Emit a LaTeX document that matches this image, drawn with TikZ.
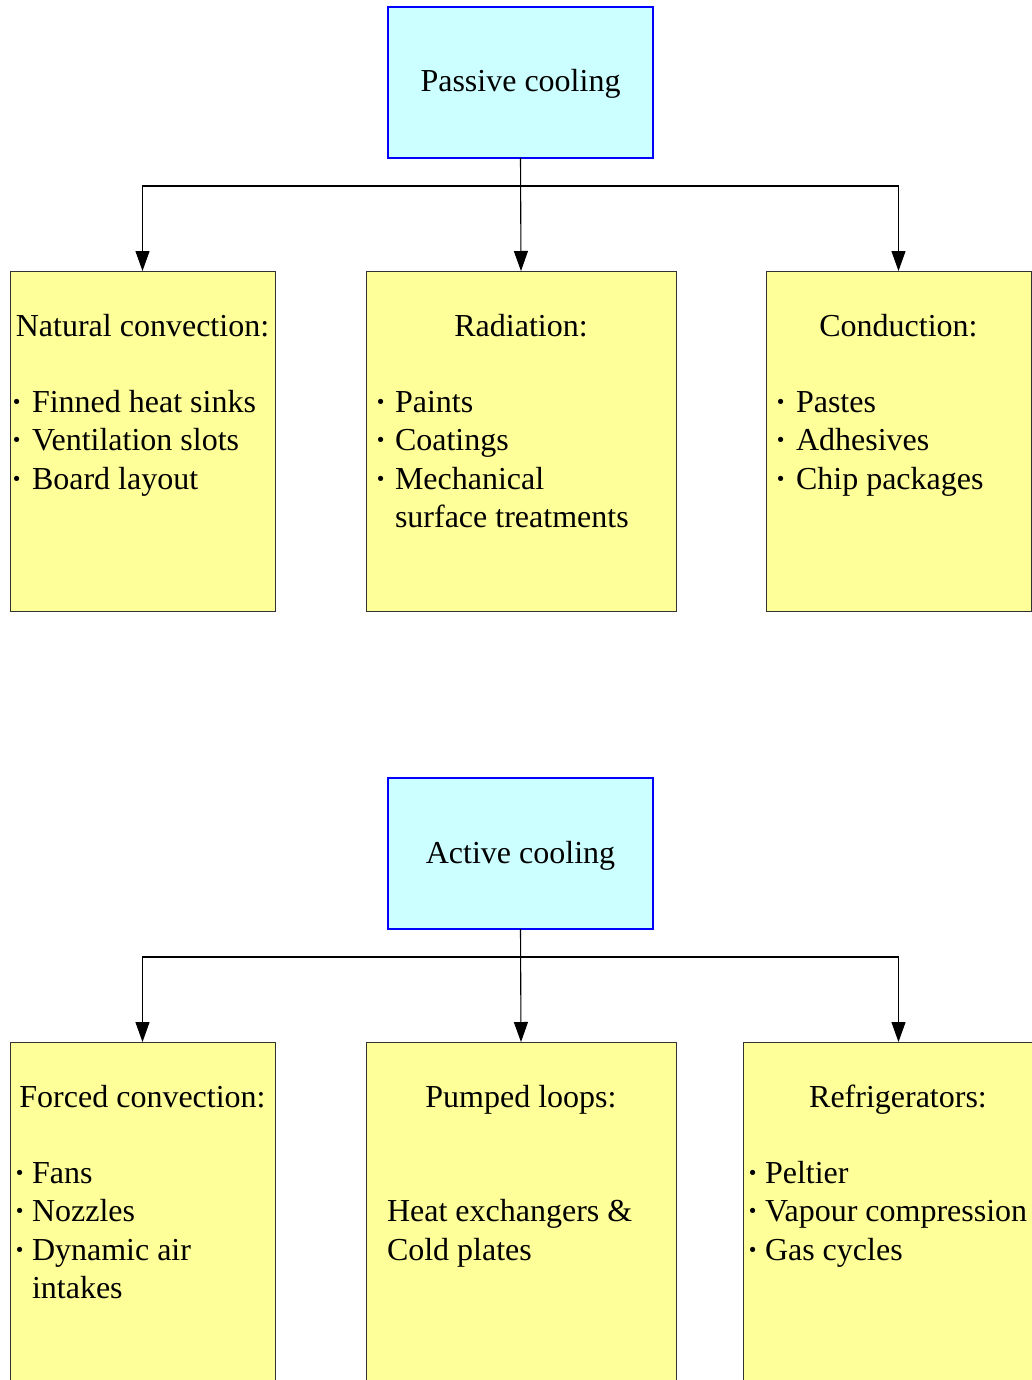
\documentclass[tikz,border=0pt]{standalone}
\usepackage{fontspec}
\setmainfont{Liberation Serif}
\usetikzlibrary{arrows.meta}
\definecolor{headfill}{HTML}{CCFFFF}
\definecolor{itemfill}{HTML}{FFFF99}
\newcommand\bul[1]{\llap{\textbf{·}\hspace{#1pt}}}
\begin{document}
\begin{tikzpicture}[x=1pt,y=-1pt,
  every node/.style={font=\fontsize{32}{38.5}\selectfont, inner sep=0pt, outer sep=0pt},
  headbox/.style={draw=blue, line width=1.5pt, fill=headfill, minimum width=265pt, minimum height=151pt, anchor=north west},
  itembox/.style={draw=black!80, line width=1pt, fill=itemfill, anchor=north west, minimum height=340pt},
  titletext/.style={anchor=base},
  linetext/.style={anchor=base west},
  conn/.style={draw=black, line width=1.1pt, -{Triangle[length=20pt,width=14pt]}}
]
\useasboundingbox (0,0) rectangle (1032,1380);
\clip (0,0) rectangle (1032,1380);

% ---------- Passive ----------
\node[headbox] (pc) at (388,7) {};
\node[anchor=base] (pct) at (520.5,92) {Passive cooling};

\node[itembox, minimum width=265pt] (nc) at (10,271) {};
\node[itembox, minimum width=310pt] (rad) at (366,271) {};
\node[itembox, minimum width=265pt] (con) at (766,271) {};

\coordinate (pj) at (520.5,186);
\draw[conn] (pc.south) -- (pj) -| (nc.north);
\draw[conn] (pj) -| (con.north);
\draw[conn] (pc.south) -- (rad.north);

\node[titletext] (nct) at (142.5,336) {Natural convection:};
\node[linetext] (nc1) at (32,412) {\bul{10}Finned heat sinks};
\node[linetext] (nc2) at (32,450.5) {\bul{10}Ventilation slots};
\node[linetext] (nc3) at (32,489) {\bul{10}Board layout};

\node[titletext] (radt) at (521,336) {Radiation:};
\node[linetext] (rad1) at (395,412) {\bul{9}Paints};
\node[linetext] (rad2) at (395,450.5) {\bul{9}Coatings};
\node[linetext] (rad3) at (395,489) {\bul{9}Mechanical};
\node[linetext] (rad4) at (395,527.5) {surface treatments};

\node[titletext] (cont) at (898.5,336) {Conduction:};
\node[linetext] (con1) at (796,412) {\bul{10}Pastes};
\node[linetext] (con2) at (796,450.5) {\bul{10}Adhesives};
\node[linetext] (con3) at (796,489) {\bul{10}Chip packages};

% ---------- Active ----------
\node[headbox] (ac) at (388,778) {};
\node[anchor=base] (act) at (520.5,863) {Active cooling};

\node[itembox, minimum width=265pt, minimum height=400pt] (fc) at (10,1042) {};
\node[itembox, minimum width=310pt, minimum height=400pt] (pl) at (366,1042) {};
\node[itembox, minimum width=310pt, minimum height=400pt] (ref) at (743,1042) {};

\coordinate (aj) at (520.5,957);
\coordinate (refin) at (898.5,1042);
\draw[conn] (ac.south) -- (aj) -| (fc.north);
\draw[conn] (aj) -| (refin);
\draw[conn] (ac.south) -- (pl.north);

\node[titletext] (fct) at (142.5,1107) {Forced convection:};
\node[linetext] (fc1) at (32,1183) {\bul{7}Fans};
\node[linetext] (fc2) at (32,1221.5) {\bul{7}Nozzles};
\node[linetext] (fc3) at (32,1260) {\bul{7}Dynamic air};
\node[linetext] (fc4) at (32,1298.5) {intakes};

\node[titletext] (plt) at (521,1107) {Pumped loops:};
\node[linetext] (pl1) at (387,1221.5) {Heat exchangers \&};
\node[linetext] (pl2) at (387,1260) {Cold plates};

\node[titletext] (reft) at (898,1107) {Refrigerators:};
\node[linetext] (ref1) at (765,1183) {\bul{7}Peltier};
\node[linetext] (ref2) at (765,1221.5) {\bul{7}Vapour compression};
\node[linetext] (ref3) at (765,1260) {\bul{7}Gas cycles};
\end{tikzpicture}
\end{document}
